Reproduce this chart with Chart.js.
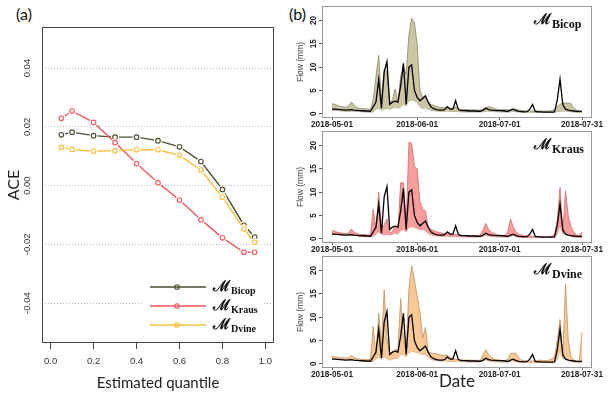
<!DOCTYPE html>
<html><head><meta charset="utf-8">
<script src="https://cdn.jsdelivr.net/npm/chart.js@4"></script>
<style>
html,body{margin:0;padding:0;background:#fff;width:609px;height:396px;overflow:hidden;position:relative}
canvas{position:absolute}
.lbl{position:absolute;font-family:Lato,'Open Sans',sans-serif;font-size:16px;color:#111}
</style></head><body>
<div class="lbl" style="left:16px;top:4px">(a)</div>
<div class="lbl" style="left:289px;top:4px">(b)</div>
<canvas id="ca" width="290" height="396" style="left:0;top:0"></canvas>
<canvas id="c1" width="319" height="135" style="left:290px;top:0"></canvas>
<canvas id="c2" width="319" height="135" style="left:290px;top:125px"></canvas>
<canvas id="c3" width="319" height="146" style="left:290px;top:250px"></canvas>
<script>
// ---------- Panel (a) data ----------
const quantiles = [0.05,0.1,0.2,0.3,0.4,0.5,0.6,0.7,0.8,0.9,0.95];
const aceBicop = [0.0173,0.0182,0.0170,0.0165,0.0165,0.0153,0.0132,0.0082,-0.0013,-0.0135,-0.0175];
const aceKraus = [0.0229,0.0254,0.0215,0.0147,0.0075,0.0010,-0.0049,-0.0116,-0.0178,-0.0227,-0.0227];
const aceDvine = [0.0130,0.0123,0.0117,0.0119,0.0122,0.0122,0.0103,0.0053,-0.0039,-0.0148,-0.0193];
const aceTicks = [-0.04,-0.02,0,0.02,0.04];
const quantileTicks = [0,0.2,0.4,0.6,0.8,1.0];
const modelNames = ['Bicop','Kraus','Dvine'];

// ---------- Panel (b) data (daily, 2018-05-01 .. 2018-07-31) ----------
const xTickDays = [0,31,61,91];
const xTickLabels = ['2018-05-01','2018-06-01','2018-07-01','2018-07-31'];
const flowTicks = [0,5,10,15,20];
const observed = [
1.0,1.0,0.95,0.9,0.85,0.8,0.85,0.9,0.8,0.75,
0.7,0.65,0.6,0.6,0.55,1.5,2.5,7.4,1.2,9.0,
11.2,2.0,2.5,2.7,2.5,6.0,10.8,2.0,10.0,10.5,
5.0,3.5,2.8,3.3,3.8,2.5,1.5,1.1,0.9,0.8,
0.8,0.9,1.5,1.0,1.0,2.8,0.9,0.7,0.7,0.65,
0.6,0.6,0.6,0.55,0.55,0.8,1.2,0.9,0.8,0.75,
0.7,0.7,0.65,0.6,0.5,0.8,1.0,0.7,0.5,0.45,
0.4,0.45,1.0,2.0,0.5,0.4,0.4,0.35,0.35,0.35,
0.35,0.4,3.0,7.4,2.0,1.0,0.8,0.7,0.6,0.5,
0.5,0.5];
const bicopUpper = [
2.2,2.0,1.8,1.6,1.5,1.4,1.6,2.5,2.0,1.3,
1.2,1.1,1.1,1.0,1.0,3.0,8.0,12.5,3.0,9.5,
9.0,2.5,3.0,5.3,2.5,8.0,10.0,8.5,17.0,20.5,
19.5,15.0,5.0,3.5,4.0,2.5,2.0,1.8,1.6,1.4,
1.3,1.3,1.6,1.2,1.2,1.5,1.0,0.9,0.9,0.9,
0.85,0.85,0.8,0.8,0.8,1.0,1.3,1.5,1.4,1.1,
1.0,0.9,0.9,0.85,0.85,0.9,1.0,1.0,0.8,0.7,
0.65,0.6,0.6,0.6,0.6,0.6,0.6,0.55,0.55,0.6,
0.7,0.9,1.5,2.0,2.3,2.3,2.3,2.2,1.2,0.8,
0.6,0.5];
const bicopLower = [
0.8,0.75,0.7,0.65,0.6,0.55,0.55,0.6,0.55,0.5,
0.45,0.45,0.4,0.4,0.35,0.4,1.0,1.2,0.8,1.0,
1.2,1.0,1.2,1.5,1.2,1.5,2.0,1.8,2.8,3.0,
2.8,2.5,1.5,1.2,1.3,1.0,0.8,0.7,0.6,0.6,
0.55,0.55,0.6,0.55,0.5,0.5,0.45,0.45,0.4,0.4,
0.4,0.4,0.4,0.4,0.4,0.45,0.6,0.6,0.5,0.45,
0.45,0.4,0.4,0.4,0.4,0.45,0.5,0.45,0.4,0.35,
0.35,0.35,0.35,0.35,0.3,0.3,0.3,0.3,0.3,0.3,
0.3,0.35,0.5,0.6,0.6,0.6,0.5,0.45,0.4,0.35,
0.3,0.3];
const krausUpper = [
1.8,1.6,1.4,1.3,1.2,1.1,1.2,2.1,1.5,1.1,
1.0,0.9,0.9,0.8,0.9,6.3,2.0,10.0,2.5,3.0,
4.3,1.2,1.5,2.8,2.0,12.0,12.0,3.0,20.7,20.5,
15.5,15.0,8.0,6.3,6.0,2.5,2.0,1.8,1.5,1.4,
1.2,1.1,1.3,1.0,0.9,0.9,0.8,0.75,0.7,0.7,
0.7,0.7,0.65,0.65,0.8,2.0,3.3,2.0,1.5,1.1,
0.9,0.8,0.7,0.7,1.5,4.2,2.5,1.5,1.0,0.8,
0.7,0.6,0.6,0.55,0.5,0.5,0.5,0.5,0.5,0.5,
0.6,0.8,4.0,11.0,1.5,10.2,5.0,2.5,1.5,0.8,
0.6,1.5];
const krausLower = [
1.0,0.95,0.9,0.85,0.8,0.75,0.75,0.8,0.7,0.65,
0.6,0.55,0.5,0.5,0.45,0.6,1.0,1.5,1.0,0.8,
1.0,0.8,1.0,1.2,1.0,1.8,2.0,1.5,2.5,2.6,
2.5,2.2,2.0,2.0,1.8,1.2,0.9,0.7,0.6,0.6,
0.55,0.55,0.6,0.5,0.5,0.5,0.45,0.45,0.4,0.4,
0.4,0.4,0.4,0.4,0.45,0.6,0.8,0.6,0.5,0.45,
0.4,0.4,0.4,0.4,0.45,0.6,0.7,0.5,0.4,0.35,
0.35,0.35,0.3,0.3,0.3,0.3,0.3,0.3,0.3,0.3,
0.35,0.4,1.0,3.0,1.0,1.5,0.8,0.5,0.4,0.35,
0.3,0.3];
const dvineUpper = [
1.6,1.5,1.4,1.3,1.3,1.2,1.3,1.8,1.3,1.1,
1.0,0.95,0.9,0.9,1.0,8.0,2.0,10.8,4.0,15.8,
5.0,2.0,2.5,3.0,3.0,14.0,5.0,3.0,16.0,21.0,
18.0,14.5,11.0,5.5,7.8,2.5,2.3,2.2,2.2,2.0,
1.8,1.8,1.8,1.3,1.2,1.0,0.9,0.85,0.8,0.8,
0.8,0.75,0.75,0.75,0.8,2.0,3.0,2.0,1.4,1.0,
0.9,0.8,0.7,0.7,1.0,2.2,2.3,2.2,1.2,0.8,
0.7,0.6,0.6,0.6,0.6,0.7,0.8,0.7,0.7,0.8,
1.0,1.5,5.0,9.5,1.5,17.0,5.0,1.5,0.8,0.6,
0.5,6.7];
const dvineLower = [
1.2,1.1,1.0,0.95,0.9,0.85,0.8,0.85,0.75,0.7,
0.65,0.6,0.55,0.5,0.5,0.5,1.0,1.5,1.2,1.5,
1.2,0.8,1.0,1.2,1.2,2.0,2.0,1.5,2.5,2.6,
2.6,2.4,2.2,2.0,2.0,1.5,1.0,0.8,0.7,0.65,
0.6,0.6,0.6,0.55,0.5,0.5,0.45,0.45,0.4,0.4,
0.4,0.4,0.4,0.4,0.45,0.6,0.8,0.6,0.5,0.45,
0.4,0.4,0.4,0.4,0.45,0.6,0.6,0.5,0.4,0.35,
0.35,0.35,0.3,0.3,0.3,0.3,0.3,0.3,0.3,0.3,
0.35,0.4,1.0,3.0,1.0,1.5,0.8,0.5,0.4,0.35,
0.3,0.3];

// ---------- styling ----------
Chart.defaults.font.family = "'Liberation Sans', Arial, sans-serif";
Chart.defaults.animation = false;
const lineColors = ['#4d4d2d','#f0565e','#fbbd3a'];
const SCRIPT_M = '\u2133';

const pts = vals => quantiles.map((q,i)=>({x:q,y:vals[i]}));
function aceSeries(vals,color,base){
  return [
    {data:pts(vals),borderColor:color,borderWidth:1.4,pointRadius:0,fill:false,tension:0,order:base+2},
    {data:pts(vals),showLine:false,pointRadius:4,pointBorderWidth:0,pointBackgroundColor:'#fff',pointBorderColor:'#fff',order:base+1},
    {data:pts(vals),showLine:false,pointRadius:2.3,pointBorderWidth:1.1,pointBackgroundColor:'rgba(0,0,0,0)',pointBorderColor:color,order:base}
  ];
}
const boxPlugin = {id:'box', afterDraw(chart,args,o){
  const {ctx,chartArea:a}=chart; ctx.save(); ctx.strokeStyle=o.color; ctx.lineWidth=o.width;
  ctx.strokeRect(a.left+0.5,a.top+0.5,a.right-a.left-1,a.bottom-a.top-1); ctx.restore();}};
const legendPlugin = {id:'aceLegend', afterDraw(chart){
  const ctx=chart.ctx; ctx.save();
  ctx.fillStyle='#fff'; ctx.fillRect(144,276,119,58);
  modelNames.forEach((n,i)=>{
    const y=287+i*19;
    ctx.strokeStyle=lineColors[i]; ctx.lineWidth=1.4;
    ctx.beginPath(); ctx.moveTo(150,y); ctx.lineTo(206,y); ctx.stroke();
    ctx.lineWidth=1.1; ctx.beginPath(); ctx.arc(177,y,2.3,0,Math.PI*2); ctx.stroke();
    ctx.fillStyle='#111'; ctx.textBaseline='alphabetic'; ctx.textAlign='left';
    ctx.font="bold 15px 'DejaVu Serif'"; ctx.fillText(SCRIPT_M,213,y+4);
    const mw=ctx.measureText(SCRIPT_M).width;
    ctx.font="bold 10px 'Liberation Serif'"; ctx.fillText(n,213+mw+1,y+7);
  });
  ctx.restore();}};

new Chart(document.getElementById('ca'),{
  type:'line',
  data:{datasets:[...aceSeries(aceBicop,lineColors[0],7),...aceSeries(aceKraus,lineColors[1],4),...aceSeries(aceDvine,lineColors[2],1)]},
  options:{responsive:false,animation:false,
    layout:{padding:{left:0,top:27,right:16,bottom:0}},
    plugins:{legend:{display:false},tooltip:{enabled:false},box:{color:'#444',width:1}},
    scales:{
      x:{type:'linear',min:-0.04,max:1.04,
        afterBuildTicks:s=>{s.ticks=quantileTicks.map(v=>({value:v}));},
        ticks:{callback:v=>v.toFixed(1),font:{size:9.5},color:'#333',padding:7,maxRotation:0,autoSkip:false},
        grid:{drawOnChartArea:false,drawTicks:true,tickLength:6,color:'#444'},
        border:{display:false},
        title:{display:true,text:'Estimated quantile',font:{family:'Lato',size:15},color:'#222',padding:{top:0,bottom:4}},
        afterFit:s=>{s.height=53;}},
      y:{min:-0.0536,max:0.054,
        afterBuildTicks:s=>{s.ticks=aceTicks.map(v=>({value:v}));},
        ticks:{callback:v=>v.toFixed(2),minRotation:90,maxRotation:90,crossAlign:'center',padding:4,font:{size:9.5},color:'#333'},
        grid:{color:'#bbb',drawTicks:false,lineWidth:1},
        border:{display:false,dash:[1,2]},
        title:{display:true,text:'ACE',font:{family:'Lato',size:16},color:'#222',padding:{top:4,bottom:0}},
        afterFit:s=>{s.width=42;}}
    }},
  plugins:[boxPlugin,legendPlugin]
});

// ---------- Panel (b) ----------
const dayIndex = observed.map((_,i)=>i);
const xy = vals => dayIndex.map((d,i)=>({x:d,y:vals[i]}));
const titlePlugin = {id:'mtitle', afterDraw(chart,args,o){
  const ctx=chart.ctx; ctx.save(); ctx.fillStyle='#111'; ctx.textAlign='left'; ctx.textBaseline='alphabetic';
  ctx.font="bold 15px 'DejaVu Serif'"; ctx.fillText(SCRIPT_M,244,24);
  const mw=ctx.measureText(SCRIPT_M).width;
  ctx.font="bold 12px 'Liberation Serif'"; ctx.fillText(o.name,244+mw+1,28);
  ctx.restore();}};
function panel(id,lower,upper,fillColor,edgeColor,name,canvasH,boxH,isLast){
  new Chart(document.getElementById(id),{
    type:'line',
    data:{datasets:[
      {data:xy(lower),borderColor:edgeColor,borderWidth:0.8,pointRadius:0,fill:false,tension:0,order:3},
      {data:xy(upper),borderColor:edgeColor,borderWidth:0.8,pointRadius:0,fill:'-1',backgroundColor:fillColor,tension:0,order:2},
      {data:xy(observed),borderColor:'#000',borderWidth:1.3,pointRadius:0,fill:false,tension:0,order:1}
    ]},
    options:{responsive:false,animation:false,
      layout:{padding:{left:0,top:6,right:17,bottom:0}},
      plugins:{legend:{display:false},tooltip:{enabled:false},box:{color:'#999',width:1},mtitle:{name:name}},
      scales:{
        x:{type:'linear',min:-3.64,max:94.64,
          afterBuildTicks:s=>{s.ticks=xTickDays.map(v=>({value:v}));},
          ticks:{callback:v=>xTickLabels[xTickDays.indexOf(v)],font:{size:8.2,weight:'bold'},color:'#222',padding:0,maxRotation:0,autoSkip:false},
          grid:{drawOnChartArea:false,drawTicks:true,tickLength:2,color:'#666'},
          border:{display:false},
          title:{display:isLast,text:'Date',font:{family:'Lato',size:17},color:'#222',padding:{top:0,bottom:4}},
          afterFit:s=>{s.height=canvasH-6-boxH;}},
        y:{min:-0.9,max:23.1,
          afterBuildTicks:s=>{s.ticks=flowTicks.map(v=>({value:v}));},
          ticks:{minRotation:90,maxRotation:90,crossAlign:'center',padding:1,font:{size:8.2,weight:'bold'},color:'#222'},
          grid:{drawOnChartArea:false,drawTicks:true,tickLength:3,color:'#555'},
          border:{display:false},
          title:{display:true,text:'Flow (mm)',font:{size:8.5},color:'#444',padding:{top:6,bottom:0}},
          afterFit:s=>{s.width=32;}}
      }},
    plugins:[boxPlugin,titlePlugin]
  });
}
panel('c1',bicopLower,bicopUpper,'#cbc5a2','#8a8664','Bicop',135,112,false);
panel('c2',krausLower,krausUpper,'#f89c9c','#cf6b6b','Kraus',135,112,false);
panel('c3',dvineLower,dvineUpper,'#f9c995','#c48d5c','Dvine',146,112,true);
</script>
</body></html>
